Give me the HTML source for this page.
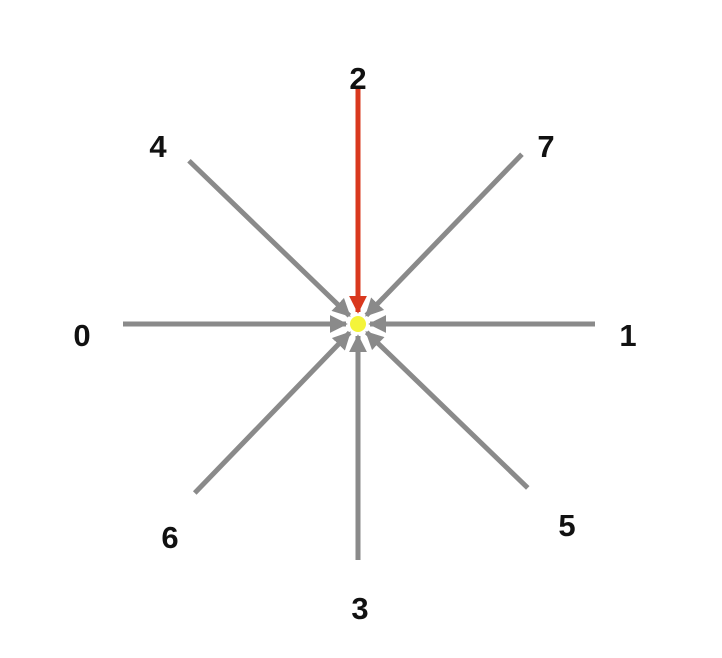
<!DOCTYPE html>
<html><head><meta charset="utf-8"><style>
html,body{margin:0;padding:0;background:#fff;width:722px;height:658px;overflow:hidden}
svg text{font-family:"Liberation Sans",sans-serif;font-size:31px;font-weight:bold;fill:#111}
</style></head><body>
<svg width="722" height="658">
<defs>
<marker id="ag" viewBox="0 0 10 10" refX="9" refY="5" markerWidth="3.6" markerHeight="3.6" orient="auto" markerUnits="strokeWidth"><path d="M0,0 L10,5 L0,10 Z" fill="#8a8a8a"/></marker>
<marker id="ar" viewBox="0 0 10 10" refX="9" refY="5" markerWidth="3.6" markerHeight="3.6" orient="auto" markerUnits="strokeWidth"><path d="M0,0 L10,5 L0,10 Z" fill="#d9381e"/></marker>
</defs>
<g id="arrows"></g>
<circle cx="358" cy="324" r="8" fill="#f4f43a"/>
</svg>
<script>
const labels=["0","1","2","3","4","5","6","7"];
const angles=[180,0,90,270,136,316,226,46];
const lengths=[235,237,236,236,235,236,235,236];
const labelOffX=[-276,270,0,2,-200,209,-188,188];
const labelOffY=[11,11,-246,284,-178,201,213,-178];
const highlighted=[false,false,true,false,false,false,false,false];
const cx=358,cy=324,tip=12;
const svg=document.querySelector('svg');
const g=document.getElementById('arrows');
const NS='http://www.w3.org/2000/svg';
labels.forEach((lab,i)=>{
  const a=angles[i]*Math.PI/180;
  const dx=Math.cos(a),dy=-Math.sin(a);
  const ln=document.createElementNS(NS,'line');
  ln.setAttribute('x1',cx+dx*lengths[i]);ln.setAttribute('y1',cy+dy*lengths[i]);
  ln.setAttribute('x2',cx+dx*tip);ln.setAttribute('y2',cy+dy*tip);
  ln.setAttribute('stroke',highlighted[i]?'#d9381e':'#8a8a8a');
  ln.setAttribute('stroke-width','5');
  ln.setAttribute('marker-end',highlighted[i]?'url(#ar)':'url(#ag)');
  
  
  g.appendChild(ln);
  const t=document.createElementNS(NS,'text');
  t.setAttribute('x',cx+labelOffX[i]);t.setAttribute('y',cy+labelOffY[i]+11);
  t.setAttribute('text-anchor','middle');
  t.textContent=lab;
  
  
  svg.appendChild(t);
});
</script>
</body></html>
